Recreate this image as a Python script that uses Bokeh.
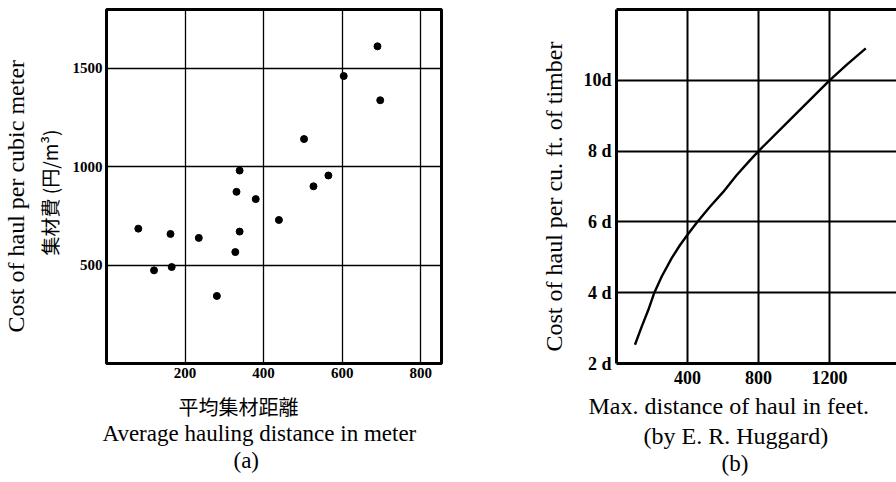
from bokeh.plotting import figure
from bokeh.layouts import row
from bokeh.models import FixedTicker, LinearAxis, Range1d, Title
from bokeh.embed import file_html
from bokeh.resources import INLINE

# ---------------- data: panel (a) ----------------
dist_m = [81, 121, 163, 166, 235, 281, 328, 331, 339, 339, 380, 439, 503, 527, 565, 604, 690, 697]
cost_yen = [685, 473, 658, 490, 638, 343, 566, 872, 980, 670, 835, 729, 1140, 900, 955, 1460, 1611, 1337]
a_xticks = [200, 400, 600, 800]
a_yticks = [500, 1000, 1500]

# ---------------- data: panel (b) ----------------
haul_ft = [104, 142, 179, 213, 254, 310, 357, 403, 455, 525, 600, 675, 750, 800, 992, 1200, 1299, 1404]
cost_d = [2.53, 3.04, 3.51, 4.0, 4.45, 4.97, 5.34, 5.66, 6.0, 6.42, 6.84, 7.31, 7.73, 8.0, 8.96, 10.0, 10.45, 10.9]
b_xticks = [400, 800, 1200]
b_yticks = [2, 4, 6, 8, 10]
b_ytick_labels = ["2 d", "4 d", "6 d", "8 d", "10d"]

SERIF = "Liberation Serif"
CJK = "Noto Sans CJK JP"


def title(p, side, text, font, size, offset, standoff, valign):
    p.add_layout(Title(text=text, text_font=font, text_font_size=size,
                       text_font_style="normal", text_color="black",
                       align="left", offset=offset, standoff=standoff,
                       vertical_align=valign), side)


def spacer(p, side, standoff):
    # a blank title used only to open a small gap in the side panel
    p.add_layout(Title(text=" ", text_font=SERIF, text_font_size="2px",
                       text_font_style="normal", text_color="black",
                       standoff=standoff, vertical_align="top"), side)


def style_axes(p, size):
    p.axis.major_tick_line_color = None
    p.axis.minor_tick_line_color = None
    p.axis.major_tick_out = 0
    p.axis.major_tick_in = 0
    p.axis.minor_tick_out = 0
    p.axis.minor_tick_in = 0
    p.axis.major_label_text_font = SERIF
    p.axis.major_label_text_font_style = "bold"
    p.axis.major_label_text_font_size = size
    p.axis.major_label_text_color = "black"


# ---------------- panel (a) ----------------
pa = figure(width=448, height=482, x_range=Range1d(0, 853), y_range=Range1d(0, 1798),
            output_backend="svg", toolbar_location=None,
            min_border_left=102, min_border_right=7, min_border_top=9, min_border_bottom=117)
pa.outline_line_color = "black"
pa.outline_line_width = 3
pa.xaxis.ticker = FixedTicker(ticks=a_xticks)
pa.yaxis.ticker = FixedTicker(ticks=a_yticks)
pa.axis.axis_line_color = None
style_axes(pa, "15px")
pa.xaxis.major_label_standoff = 4
pa.yaxis.major_label_standoff = 4
pa.grid.grid_line_color = "black"
pa.grid.grid_line_width = 1.3
pa.scatter(dist_m, cost_yen, size=7, color="black")

title(pa, "left", "集材費 (円/m³)", CJK, "19px", 108, 12, "middle")
title(pa, "left", "Cost of haul per cubic meter", SERIF, "24px", 31, 0, "bottom")
spacer(pa, "below", 4.8)
title(pa, "below", "平均集材距離", CJK, "20px", 72, 0, "bottom")
title(pa, "below", "Average hauling distance in meter", SERIF, "23px", -4, 0, "top")
title(pa, "below", "(a)", SERIF, "23px", 127, 0, "top")

# ---------------- panel (b) ----------------
pb = figure(width=448, height=482, x_range=Range1d(0, 1577), y_range=Range1d(2, 12),
            output_backend="svg", toolbar_location=None,
            min_border_left=168, min_border_right=0, min_border_top=9, min_border_bottom=119)
pb.outline_line_color = None
pb.xaxis.ticker = FixedTicker(ticks=b_xticks)
pb.yaxis.ticker = FixedTicker(ticks=b_yticks)
pb.yaxis.major_label_overrides = {t: s for t, s in zip(b_yticks, b_ytick_labels)}
top_axis = LinearAxis(ticker=FixedTicker(ticks=[]), major_label_standoff=0)
pb.add_layout(top_axis, "above")
pb.axis.axis_line_color = "black"
pb.axis.axis_line_width = 3
style_axes(pb, "18px")
pb.xaxis.major_label_standoff = 7
pb.yaxis.major_label_standoff = 5
top_axis.major_label_standoff = 0
pb.grid.grid_line_color = "black"
pb.grid.grid_line_width = 2
pb.line(haul_ft, cost_d, line_width=2.4, color="black")

title(pb, "left", "Cost of haul per cu. ft. of timber", SERIF, "24px", 12, 28, "bottom")
title(pb, "below", "Max. distance of haul in feet.", SERIF, "24px", -28, 8, "bottom")
title(pb, "below", "(by E. R. Huggard)", SERIF, "24px", 27, 0, "top")
title(pb, "below", "(b)", SERIF, "23px", 105, 0, "top")

layout = row(pa, pb)
open("out.html", "w").write(file_html(layout, INLINE))
